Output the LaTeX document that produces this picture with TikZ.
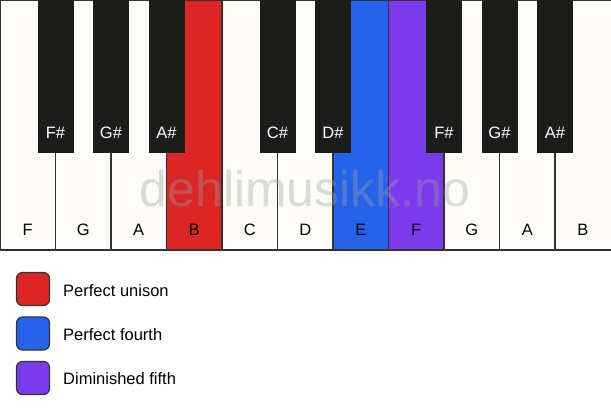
\documentclass[tikz,border=0pt]{standalone}
\usepackage{fontspec}
\setmainfont{Liberation Sans}
\definecolor{keywhite}{HTML}{FDFCF8}
\definecolor{keyblack}{HTML}{1C1C1A}
\definecolor{keyline}{HTML}{333333}
\definecolor{unison}{HTML}{DC2626}
\definecolor{fourth}{HTML}{2563EB}
\definecolor{dimfifth}{HTML}{7C3AED}
\definecolor{wmark}{HTML}{A0A0A0}
\begin{document}
\begin{tikzpicture}[x=1pt,y=-1pt,
  whitekey/.style={draw=keyline, line width=1.4pt, fill=keywhite, minimum width=55.5pt, minimum height=250pt, inner sep=0pt, outer sep=0pt, anchor=north west},
  blackkey/.style={draw=keyblack, line width=1pt, fill=keyblack, minimum width=35pt, minimum height=153pt, inner sep=0pt, outer sep=0pt, anchor=north},
  wlabel/.style={font=\fontsize{16.5}{16.5}\selectfont, text=black, anchor=base, inner sep=0pt},
  blabel/.style={font=\fontsize{16.5}{16.5}\selectfont, text=white, anchor=base, inner sep=0pt},
  legendbox/.style={draw=keyline, line width=1.2pt, minimum size=33pt, rounded corners=6pt, inner sep=0pt},
  legendtext/.style={font=\fontsize{16.5}{16.5}\selectfont, anchor=base west, inner sep=0pt},
  watermark/.style={font=\fontsize{50}{50}\selectfont, text=wmark, text opacity=0.37, anchor=base, inner sep=0pt}
]
\useasboundingbox (0,0) rectangle (611,417);
\fill[white] (0,0) rectangle (611,417);
% white keys
\foreach \n/\i/\c in {F/0/keywhite, G/1/keywhite, A/2/keywhite, B/3/unison, C/4/keywhite, D/5/keywhite, E/6/fourth, F/7/dimfifth, G/8/keywhite, A/9/keywhite}{
  \node[whitekey, fill=\c] (w\i) at ({55.5*\i},0) {};
}
\node[whitekey, minimum width=58pt] (w10) at (555,0) {};
% watermark
\node[watermark] (wm) at (305,207) {dehlimusikk.no};
% white labels
\foreach \n/\i in {F/0, G/1, A/2, B/3, C/4, D/5, E/6, F/7, G/8, A/9, B/10}{
  \node[wlabel] (wl\i) at ({55.5*\i+27.75},236) {\n};
}
% black keys
\foreach \n/\i in {F/1, G/2, A/3, C/5, D/6, F/8, G/9, A/10}{
  \node[blackkey] (b\i) at ({55.5*\i},0) {};
  \node[blabel] (bl\i) at ({55.5*\i},139) {\n\#};
}
% legend
\node[legendbox, fill=unison] (lu) at (33,289) {};
\node[legendtext] (tu) at (63,296) {Perfect unison};
\node[legendbox, fill=fourth] (lf) at (33,333.5) {};
\node[legendtext] (tf) at (63,340) {Perfect fourth};
\node[legendbox, fill=dimfifth] (ld) at (33,378) {};
\node[legendtext] (td) at (63,384) {Diminished fifth};
\end{tikzpicture}
\end{document}
